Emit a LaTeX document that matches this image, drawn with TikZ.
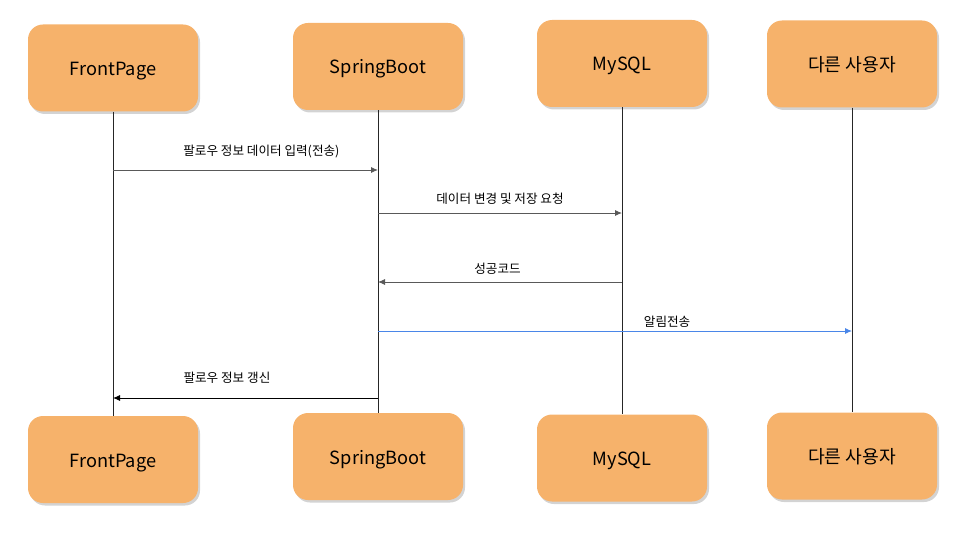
\documentclass[tikz,border=0pt]{standalone}
\usepackage{fontspec}
\setmainfont{Noto Sans CJK KR}
\usetikzlibrary{arrows.meta}
\usetikzlibrary{shadows}
\definecolor{boxorange}{HTML}{F6B26B}
\definecolor{msggray}{HTML}{595959}
\definecolor{msgblue}{HTML}{4A86E8}

\begin{document}
\begin{tikzpicture}[x=1pt,y=-1pt,
	actor/.style = {rounded corners=15pt, fill=boxorange, minimum width=170pt, minimum height=87pt,
		text height=15.5pt, text depth=0.5pt,
		font=\fontsize{18.2}{22}\selectfont, drop shadow={shadow xshift=2pt, shadow yshift=-2.5pt, opacity=0.35}},
	life/.style = {line width=0.9pt, black!85},
	msg/.style = {line width=0.9pt, msggray, -{Latex[length=7pt,width=6pt]}},
	lbl/.style = {font=\fontsize{12.6}{14}\selectfont, text=black, inner sep=0pt}]
				\useasboundingbox (0,0) rectangle (960,540);
				\begin{scope}[every node/.style={actor}]
					\node (fpT) at (113,68) {FrontPage};
					\node (sbT) at (378,66.5) {SpringBoot};
					\node (dbT) at (622,63.5) {MySQL};
					\node (usT) at (852,64) {다른 사용자};
					\node (fpB) at (113,459.5) {FrontPage};
					\node (sbB) at (378,456.5) {SpringBoot};
					\node (dbB) at (622,458) {MySQL};
					\node (usB) at (852,456) {다른 사용자};
				\end{scope}
				\draw [life] (fpT) -- (fpB);
				\draw [life] (sbT) -- (sbB);
				\draw [life] (dbT) -- (dbB);
				\draw [life] (usT) -- (usB);
				\draw [msg] (fpT |- 0,170) -- node[lbl,pos=0.56,above=12pt] {팔로우 정보 데이터 입력(전송)} (sbT |- 0,170);
				\draw [msg] (sbT |- 0,213) -- node[lbl,above=8pt] {데이터 변경 및 저장 요청} (dbT |- 0,213);
				\draw [msg] (dbT |- 0,282) -- node[lbl,pos=0.51,above=7pt] {성공코드} (sbT |- 0,282);
				\draw [msg,msgblue] (sbT |- 0,331) -- node[lbl,pos=0.61,above=3pt] {알림전송} (usT |- 0,331);
				\draw [msg,black] (sbT |- 0,398) -- node[lbl,pos=0.57,above=14pt] {팔로우 정보 갱신} (fpT |- 0,398);
			\end{tikzpicture}
\end{document}
